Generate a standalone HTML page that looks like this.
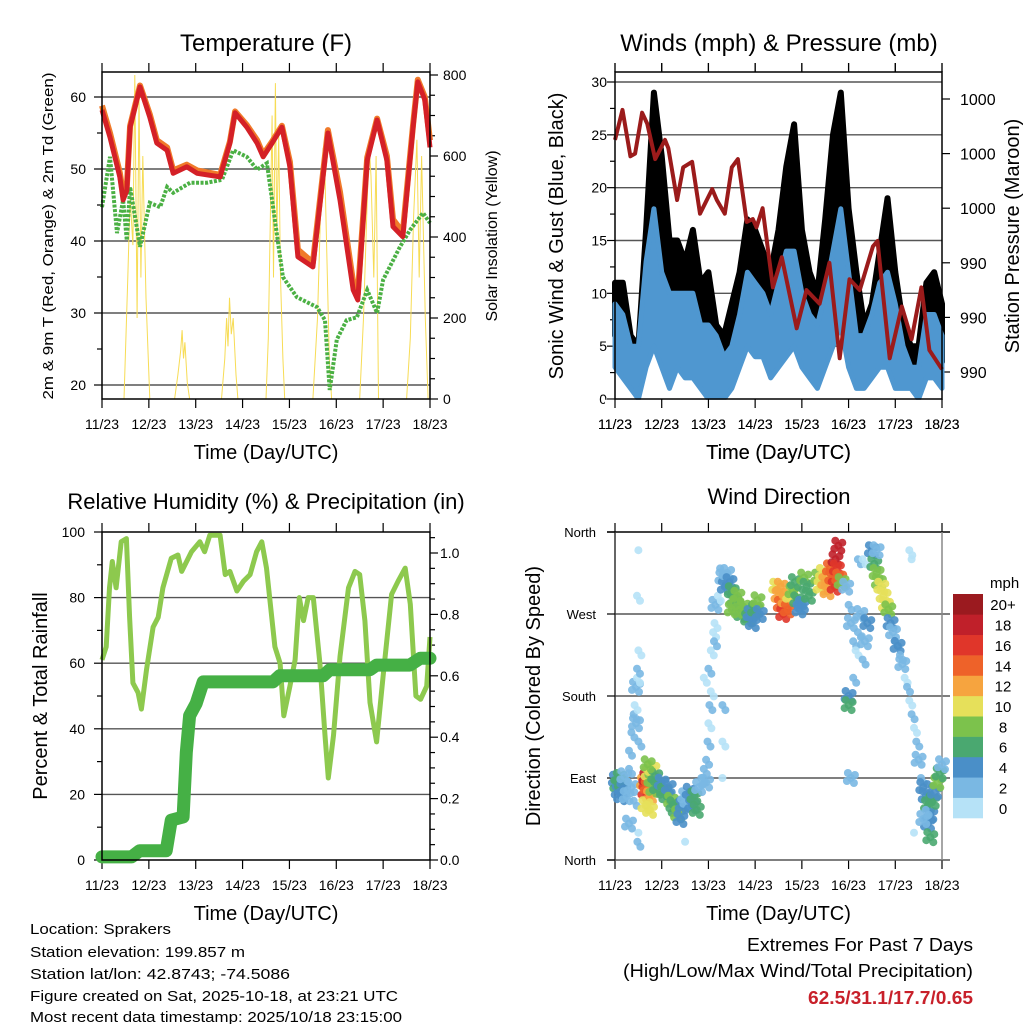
<!DOCTYPE html>
<html><head><meta charset="utf-8"><style>
body{margin:0;background:#fff}
svg text{font-family:"Liberation Sans",Arial,sans-serif;fill:#000}
</style></head><body>
<svg id="root" width="1024" height="1024" viewBox="0 0 1024 1024" xmlns="http://www.w3.org/2000/svg">
<g id="g1"></g>
<g id="g2"></g>
<g id="g3"></g>
<g id="g4"></g>
<g font-size="15">
<text x="30" y="934" textLength="141" lengthAdjust="spacingAndGlyphs">Location: Sprakers</text>
<text x="30" y="957" textLength="215" lengthAdjust="spacingAndGlyphs">Station elevation: 199.857 m</text>
<text x="30" y="979" textLength="260" lengthAdjust="spacingAndGlyphs">Station lat/lon: 42.8743; -74.5086</text>
<text x="30" y="1001" textLength="368" lengthAdjust="spacingAndGlyphs">Figure created on Sat, 2025-10-18, at 23:21 UTC</text>
<text x="30" y="1022" textLength="372" lengthAdjust="spacingAndGlyphs">Most recent data timestamp: 2025/10/18 23:15:00</text>
</g>
<g font-size="18" text-anchor="end">
<text x="973" y="951" textLength="226" lengthAdjust="spacingAndGlyphs">Extremes For Past 7 Days</text>
<text x="973" y="977" textLength="350" lengthAdjust="spacingAndGlyphs">(High/Low/Max Wind/Total Precipitation)</text>
<text x="973" y="1004" textLength="165" lengthAdjust="spacingAndGlyphs" font-weight="bold" style="fill:#c8202a">62.5/31.1/17.7/0.65</text>
</g>
</svg>
<script>
// ---------- data ----------
const dayLabels=["11/23","12/23","13/23","14/23","15/23","16/23","17/23","18/23"];
const tempT=[0,0.17,0.38,0.45,0.53,0.6,0.81,1.02,1.17,1.39,1.52,1.81,2.03,2.52,2.73,2.84,3.09,3.31,3.44,3.63,3.84,4.01,4.18,4.5,4.82,5.08,5.36,5.46,5.66,5.87,6.08,6.21,6.42,6.64,6.74,6.89,7];
const tempRed=[58.2,54.4,48.9,45.7,47,55.8,61.4,57.2,53.6,52.6,49.4,50.3,49.4,48.9,53.6,57.8,55.8,53.6,51.7,53.6,55.8,50.3,37.8,36.4,55,45.7,33.2,31.8,51.2,56.8,51.2,42,40.6,55.8,62.1,59.6,53];
const tempOrange=[58.8,55,49.5,46.5,47.5,56,61.6,57.6,54,53,49.8,50.6,49.8,49.2,53.8,58,56.1,54,52,53.8,56,51,38.8,37,55.4,46.8,34.2,32.6,51.6,57,51.8,43,41.2,56.2,62.4,60,54];
const dewT=[0,0.17,0.32,0.45,0.53,0.6,0.81,1.02,1.24,1.39,1.52,1.88,2.24,2.56,2.8,3.09,3.31,3.52,3.69,3.86,4.16,4.59,4.76,4.86,5.01,5.22,5.44,5.66,5.87,6.0,6.36,6.57,6.85,7];
const dewV=[44.7,51.7,41.1,45.7,40.1,47.5,39.2,45.3,44.7,47.5,46.7,48.1,48.1,48.5,52.6,51.7,49.9,50.8,42.9,35,32.2,30.8,29,19.3,26.3,29,29.4,33.2,30,34.6,39.2,41.5,43.9,42.5];
const solarT=[0,0.47,0.55,0.6,0.66,0.7,0.75,0.79,0.83,0.87,0.94,1.02,1.55,1.62,1.68,1.71,1.74,1.77,1.82,1.87,2.55,2.62,2.66,2.69,2.72,2.76,2.8,2.86,2.9,3.5,3.55,3.6,3.63,3.66,3.7,3.73,3.77,3.81,3.86,3.9,4.5,4.6,4.66,4.72,4.76,4.8,4.85,4.9,5.5,5.58,5.65,5.7,5.74,5.8,5.85,5.9,6.5,6.58,6.65,6.72,6.77,6.82,6.9,6.96,7];
const solarV=[0,0,300,500,380,800,200,750,300,600,250,0,0,60,120,170,100,140,40,0,0,100,200,130,250,160,200,60,0,0,150,500,700,300,780,400,650,300,100,0,0,200,450,620,550,350,100,0,0,200,450,630,550,300,600,0,0,150,450,640,300,600,200,0,0];
const presT=[0,0.16,0.33,0.43,0.58,0.69,0.86,1.07,1.14,1.33,1.46,1.65,1.82,2.08,2.18,2.35,2.5,2.63,2.82,2.95,3.03,3.16,3.38,3.57,3.89,4.1,4.38,4.59,4.81,5.02,5.24,5.52,5.62,5.88,6.14,6.35,6.56,6.73,7];
const presV=[1000.5,1001.6,999.9,1000.0,1001.5,1001.1,999.8,1000.5,1000.2,998.3,999.5,999.7,997.8,998.7,998.3,997.8,999.5,999.8,997.5,997.6,997.3,998.0,995.1,996.2,993.6,995.0,994.5,996.0,992.5,995.4,995.0,996.6,996.8,992.5,994.4,993.2,995.1,992.8,992.1];
const presTicks=[1002,1000,998,996,994,992];
const presLabels=["1000","1000","1000","990","990","990"];
const windLo=[3,2,1,0,3,5,3,1,3,2,2,1,0,0,0,1,3,5,4,4,2,3,4,5,3,2,1,3,5,7,3,1,1,2,3,3,1,1,1,0,2,2,1];
const windHi=[9,8,5,5,13,18,12,10,10,10,10,7,7,6,4,5,8,12,11,10,8,11,14,14,10,8,7,10,14,18,12,6,6,8,11,12,9,5,3,3,8,8,6];
const gustHi=[11,11,6,5,16,29,23,15,15,13,16,11,12,7,6,9,12,17,16,14,12,16,22,26,16,12,10,17,25,29,18,12,7,9,14,19,12,7,5,5,11,12,9];
const rhT=[0,0.09,0.16,0.22,0.3,0.41,0.52,0.59,0.66,0.77,0.84,0.95,1.09,1.2,1.3,1.48,1.62,1.7,1.91,2.09,2.19,2.3,2.52,2.63,2.73,2.88,3.02,3.16,3.3,3.41,3.51,3.69,3.8,3.88,4.01,4.12,4.21,4.3,4.4,4.51,4.65,4.76,4.83,4.94,5.08,5.26,5.4,5.5,5.61,5.72,5.86,6.0,6.18,6.32,6.47,6.58,6.7,6.8,6.93,7];
const rhV=[61,65,83,91,83,97,98,74,54,51,46,58,71,74,83,92,93,88,94,97,94,99,99,87,88,82,85,87,94,97,89,65,60,44,53,61,80,73,80,80,60,38,25,38,62,83,88,87,73,48,36,56,81,85,89,78,50,49,53,68];
const rainT=[0,0.63,0.8,1.37,1.48,1.73,1.8,1.87,2.01,2.16,3.65,3.79,4.72,4.86,5.72,5.86,6.57,6.79,7];
const rainV=[0.01,0.01,0.03,0.03,0.13,0.14,0.35,0.47,0.51,0.58,0.58,0.6,0.6,0.62,0.62,0.635,0.635,0.657,0.657];
const dirT=[0.02,0.05,0.08,0.1,0.13,0.15,0.18,0.2,0.25,0.3,0.35,0.4,0.3,0.35,0.4,0.42,0.45,0.47,0.45,0.5,0.47,0.5,0.47,0.5,0.5,0.48,0.3,
0.62,0.65,0.67,0.7,0.72,0.75,0.78,0.8,0.82,0.86,0.9,0.65,0.7,0.75,
1.0,1.05,1.1,1.15,1.2,1.25,1.3,1.35,1.4,1.45,1.5,1.55,1.6,1.65,1.7,1.75,1.8,1.85,1.9,1.95,
1.95,1.98,2.0,2.02,2.05,1.9,2.0,2.05,2.1,2.12,2.13,2.15,2.2,2.3,2.3,2.3,1.5,
2.25,2.3,2.35,2.4,2.45,2.5,2.55,2.6,2.65,2.7,2.75,2.8,2.85,2.9,2.95,3.0,3.05,3.1,2.5,2.62,
3.45,3.5,3.55,3.6,3.65,3.7,3.75,3.55,3.8,3.85,3.9,3.95,4.0,4.05,4.1,4.15,
4.35,4.4,4.45,4.5,4.55,4.6,4.65,4.7,4.72,4.75,4.78,4.8,4.85,
4.95,5.0,5.05,5.1,5.15,5.2,5.25,5.3,5.35,5.4,5.0,5.0,5.05,5.1,5.2,5.3,
5.5,5.55,5.6,5.65,5.7,5.75,5.8,5.85,5.6,5.9,5.95,6.0,6.05,6.1,6.15,
6.2,6.25,6.3,6.35,6.4,6.45,6.5,6.55,6.3,6.35,6.4,
6.6,6.65,6.7,6.75,6.8,6.85,6.9,6.95,7.0,6.7,6.75,6.6,6.65];
const dirV=[88,82,75,90,70,84,78,92,70,100,80,65,120,140,160,170,190,200,150,130,210,230,290,340,30,20,40,
85,75,90,80,95,70,88,100,78,92,80,60,105,55,
85,75,70,80,65,60,55,50,45,60,70,65,75,60,70,55,80,90,100,85,
110,130,150,170,185,200,210,230,250,240,260,280,290,170,130,90,20,
320,310,300,315,305,295,285,280,275,270,278,272,265,270,260,275,285,270,275,290,
300,290,280,270,285,275,290,300,295,305,285,275,280,310,300,290,
310,300,315,305,295,320,310,300,330,320,345,310,305,
300,280,260,240,230,250,270,220,240,260,180,170,90,200,330,330,
340,325,315,305,300,290,280,275,340,260,250,240,235,225,215,
200,190,175,160,145,130,110,90,340,330,30,
80,70,60,50,65,75,85,95,105,40,25,45,55];
const dirS=[5,6,4,7,4,6,5,3,3,2,3,2,2,2,2,1,3,1,3,2,2,1,1,0,0,2,3,
12,16,18,14,10,12,9,11,8,6,7,10,9,10,
5,7,6,4,8,7,6,8,5,4,3,3,4,5,6,7,3,2,2,3,
2,2,1,2,1,1,2,1,1,2,1,3,1,2,1,0,0,
2,3,4,3,5,6,7,8,6,7,9,8,6,5,4,7,8,4,9,8,
10,12,14,16,13,15,11,12,8,7,6,5,4,9,7,6,
9,11,10,12,13,14,15,16,18,17,19,14,8,
3,2,3,2,1,2,3,2,3,4,4,6,3,2,2,1,
4,7,8,9,10,11,10,8,3,4,3,2,4,2,3,
1,2,1,2,1,2,3,2,1,0,0,
4,5,6,4,7,5,8,6,3,5,7,3,2];
const speedBins=["0","2","4","6","8","10","12","14","16","18","20+"];
const speedColors=["#b6e2f7","#7ab8e3","#4a8fc8","#4aa870","#7cc24c","#e6e05a","#f6a43f","#ee6229","#e0362a","#c0202a","#9b1a1f"];

// ---------- helpers ----------
const NS="http://www.w3.org/2000/svg";
function mk(tag,attrs,parent,txt){const e=document.createElementNS(NS,tag);for(const k in attrs)e.setAttribute(k,attrs[k]);if(txt!==undefined)e.textContent=txt;parent.appendChild(e);return e;}
function pts(T,V,sx,sy){return T.map((t,i)=>sx(t).toFixed(1)+","+sy(V[i]).toFixed(1)).join(" ");}
function lin(d0,d1,r0,r1){return v=>r0+(v-d0)/(d1-d0)*(r1-r0);}

function frame(g,L,R,T,B){
  const xs=lin(0,7,L,R);
  dayLabels.forEach((lab,i)=>{
    const x=xs(i);
    mk("line",{x1:x,x2:x,y1:T-9,y2:T,stroke:"#000","stroke-width":1.2},g);
    mk("line",{x1:x,x2:x,y1:B,y2:B+9,stroke:"#000","stroke-width":1.2},g);
    const t=mk("text",{x:x,y:B+30,"font-size":14,"text-anchor":"middle"},g,lab);
    
    
  });
  const xt=mk("text",{x:(L+R)/2,y:B+60,"font-size":20,"text-anchor":"middle"},g,"Time (Day/UTC)");
  
  
  return xs;
}
function box(g,L,R,T,B){mk("rect",{x:L,y:T,width:R-L,height:B-T,fill:"none",stroke:"#000","stroke-width":1.5},g);}
function hgrid(g,L,R,y){mk("line",{x1:L,x2:R,y1:y,y2:y,stroke:"#555","stroke-width":1.4},g);}
function ytick(g,x,y,len){mk("line",{x1:x,x2:x+len,y1:y,y2:y,stroke:"#000","stroke-width":1.2},g);}
function label(g,x,y,txt,size,anchor,name){const t=mk("text",{x:x,y:y,"font-size":size,"text-anchor":anchor},g,txt);return t;}
function vlabel(g,x,y,txt,size,name,len){const t=mk("text",{x:0,y:0,"font-size":size,"text-anchor":"middle",transform:`translate(${x},${y}) rotate(-90)`},g,txt);if(len){t.setAttribute("textLength",len);t.setAttribute("lengthAdjust","spacingAndGlyphs");}}

// ---------- panel 1 temperature ----------
(function(){
  const g=document.getElementById("g1");const L=102,R=430,T=72,B=399;
  const xs=frame(g,L,R,T,B);
  const ys=lin(20,60,385,97), ys2=lin(0,800,399,75);
  [20,30,40,50,60].forEach(v=>{hgrid(g,L,R,ys(v));ytick(g,L,ys(v),-8);label(g,86,ys(v)+5,String(v),14,"end","y-tick-label");});
  [25,35,45,55].forEach(v=>ytick(g,L,ys(v),-5));
  [0,200,400,600,800].forEach(v=>{ytick(g,R,ys2(v),8);label(g,443,ys2(v)+5,String(v),14,"start","y2-tick-label");});
  [50,100,150,250,300,350,450,500,550,650,700,750].forEach(v=>ytick(g,R,ys2(v),5));
  const so=mk("polyline",{points:pts(solarT,solarV,xs,ys2),fill:"none",stroke:"#f7dc55","stroke-width":1},g);
  
  const dw=mk("polyline",{points:pts(dewT,dewV,xs,ys),fill:"none",stroke:"#4bb044","stroke-width":4,"stroke-dasharray":"3 1.5"},g);
  
  const or=mk("polyline",{points:pts(tempT,tempOrange,xs,ys),fill:"none",stroke:"#f07a2a","stroke-width":6,"stroke-linejoin":"round"},g);
  
  const rd=mk("polyline",{points:pts(tempT,tempRed,xs,ys),fill:"none",stroke:"#d42027","stroke-width":5,"stroke-linejoin":"round"},g);
  
  box(g,L,R,T,B);
  label(g,266,51,"Temperature (F)",24,"middle","chart-title");
  vlabel(g,53,236,"2m & 9m T (Red, Orange) & 2m Td (Green)",15,"y-axis-title",327);
  vlabel(g,497,236,"Solar Insolation (Yellow)",16,"y2-axis-title");
})();

// ---------- panel 2 wind / pressure ----------
(function(){
  const g=document.getElementById("g2");const L=615,R=942,T=72,B=399;
  const xs=frame(g,L,R,T,B);
  const ys=lin(0,30,399,82), yp=lin(1002,992,99,372);
  [5,10,15,20,25,30].forEach(v=>hgrid(g,L,R,ys(v)));
  [0,5,10,15,20,25,30].forEach(v=>{ytick(g,L,ys(v),-8);label(g,607,ys(v)+5,String(v),14,"end","y-tick-label");});
  [2.5,7.5,12.5,17.5,22.5,27.5].forEach(v=>ytick(g,L,ys(v),-5));
  presTicks.forEach((p,i)=>{ytick(g,R,yp(p),8);label(g,960,yp(p)+6,presLabels[i],16,"start","y2-tick-label");});
  const tt=windHi.map((v,i)=>i/6);
  const mid=windHi.map((v,i)=>windLo[i]+(v-windLo[i])*0.5);
  const gpoly=pts(tt,gustHi,xs,ys)+" "+pts(tt.slice().reverse(),mid.slice().reverse(),xs,ys);
  const gw=mk("polygon",{points:gpoly,fill:"#000",stroke:"#000","stroke-width":6,"stroke-linejoin":"round"},g);
  
  const bpoly=pts(tt,windHi,xs,ys)+" "+pts(tt.slice().reverse(),windLo.slice().reverse(),xs,ys);
  const bw=mk("polygon",{points:bpoly,fill:"#4f97d0",stroke:"#4f97d0","stroke-width":5,"stroke-linejoin":"round"},g);
  
  const pl=mk("polyline",{points:pts(presT,presV,xs,yp),fill:"none",stroke:"#9b1b1b","stroke-width":4,"stroke-linejoin":"round"},g);
  
  mk("rect",{x:L-10,y:B+0.8,width:R-L+20,height:8,fill:"#fff"},g);
  frame(g,L,R,T,B).call;
  box(g,L,R,T,B);
  label(g,779,51,"Winds (mph) & Pressure (mb)",24,"middle","chart-title");
  vlabel(g,563,236,"Sonic Wind & Gust (Blue, Black)",20,"y-axis-title");
  vlabel(g,1019,236,"Station Pressure (Maroon)",20,"y2-axis-title");
})();

// ---------- panel 3 RH / precip ----------
(function(){
  const g=document.getElementById("g3");const L=102,R=430,T=532,B=860;
  const xs=frame(g,L,R,T,B);
  const ys=lin(0,100,860,532), yr=lin(0,1,860,553);
  [20,40,60,80].forEach(v=>hgrid(g,L,R,ys(v)));
  [0,20,40,60,80,100].forEach(v=>{ytick(g,L,ys(v),-8);label(g,85,ys(v)+5,String(v),14,"end","y-tick-label");});
  [10,30,50,70,90].forEach(v=>ytick(g,L,ys(v),-5));
  [0,0.2,0.4,0.6,0.8,1.0].forEach(v=>{ytick(g,R,yr(v),8);label(g,440,yr(v)+5,v.toFixed(1),14,"start","y2-tick-label");});
  [0.05,0.1,0.15,0.25,0.3,0.35,0.45,0.5,0.55,0.65,0.7,0.75,0.85,0.9,0.95,1.05].forEach(v=>ytick(g,R,yr(v),5));
  const rh=mk("polyline",{points:pts(rhT,rhV,xs,ys),fill:"none",stroke:"#8dc94e","stroke-width":5,"stroke-linejoin":"round"},g);
  
  const rn=mk("polyline",{points:pts(rainT,rainV,xs,yr),fill:"none",stroke:"#45b045","stroke-width":13,"stroke-linejoin":"round","stroke-linecap":"round"},g);
  
  box(g,L,R,T,B);
  label(g,266,509,"Relative Humidity (%) & Precipitation (in)",22,"middle","chart-title");
  vlabel(g,47,696,"Percent & Total Rainfall",20,"y-axis-title");
})();

// ---------- panel 4 wind direction ----------
(function(){
  const g=document.getElementById("g4");const L=615,R=942,T=532,B=860;
  const xs=frame(g,L,R,T,B);
  const yd=lin(0,360,860,532);
  const dirLabels=["North","East","South","West","North"];
  [90,180,270].forEach(v=>hgrid(g,L,R+8,yd(v)));
  mk("line",{x1:L-8,x2:R+8,y1:T,y2:T,stroke:"#000","stroke-width":1.5},g);
  mk("line",{x1:L-8,x2:R+8,y1:B,y2:B,stroke:"#555","stroke-width":1.5},g);
  mk("line",{x1:L,x2:L,y1:T,y2:B,stroke:"#333","stroke-width":1.5},g);
  mk("line",{x1:R,x2:R,y1:T,y2:B,stroke:"#888","stroke-width":1.5},g);
  [0,90,180,270,360].forEach((v,i)=>{ytick(g,L,yd(v),-8);label(g,596,yd(v)+5,dirLabels[i],13,"end","y-tick-label");});
  const offs=[[0,0],[3,5],[-3,-5],[4,-3],[-4,3]];
  dirT.forEach((t,i)=>{const bin=Math.min(10,Math.floor(dirS[i]/2));
    const cx=xs(t), cy=yd(dirV[i]);
    const n=dirS[i]>=3?5:(dirS[i]>=1?2:1);
    const grp=mk("g",{fill:speedColors[bin],"fill-opacity":0.9},g);
    
    
    for(let k=0;k<n;k++)mk("circle",{cx:(cx+offs[k][0]).toFixed(1),cy:(cy+offs[k][1]).toFixed(1),r:4},grp);});
  label(g,779,504,"Wind Direction",22,"middle","chart-title");
  vlabel(g,540,696,"Direction (Colored By Speed)",20,"y-axis-title");
  const cb=mk("g",{},g);
  const h=(818-594)/speedBins.length;
  label(cb,990,588,"mph",15,"start","colorbar-title");
  speedBins.forEach((b,i)=>{const j=speedBins.length-1-i;const y=594+j*h;
    mk("rect",{x:953,y:y,width:30,height:h+0.3,fill:speedColors[i]},cb);
    label(cb,1003,y+h/2+6,b,15,"middle","colorbar-label");});
})();
</script>
</body></html>
